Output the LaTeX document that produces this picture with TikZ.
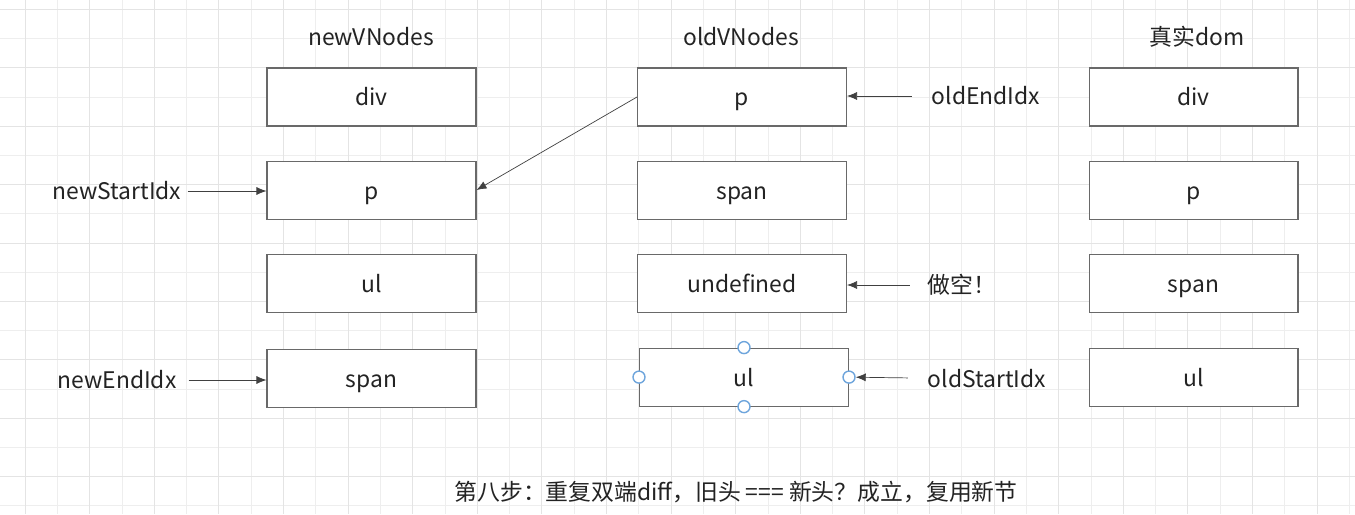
\documentclass[tikz,border=0pt]{standalone}
\usepackage{fontspec}
\setmainfont{Noto Sans CJK SC}
\usetikzlibrary{positioning, arrows.meta}
\definecolor{gridminor}{RGB}{238,238,238}
\definecolor{gridmajor}{RGB}{228,228,228}
\definecolor{boxgray}{RGB}{105,105,105}
\definecolor{handleblue}{RGB}{110,165,220}
\definecolor{textdark}{RGB}{35,35,35}

\begin{document}
\begin{tikzpicture}[x=0.02cm, y=-0.02cm, node distance=0.68cm and 3.2cm,
  box/.style={draw=boxgray, semithick, minimum width=4.18cm, minimum height=1.16cm, fill=white, text height=1.1em, text depth=0.08em, font=\fontsize{13}{15}\selectfont, text=textdark},
  head/.style={font=\fontsize{13}{15}\selectfont, text=textdark},
  lbl/.style={font=\fontsize{13}{15}\selectfont, text=textdark},
  arr/.style={-{Latex[length=0.2cm, width=0.16cm]}, thin, color=black!75},
  handle/.style={circle, draw=handleblue, thick, fill=white, inner sep=0pt, minimum size=0.24cm}]
  \useasboundingbox (0,0) rectangle (1355,514);
  \fill[white] (0,0) rectangle (1355,514);
  % grid
  \foreach \i in {0,...,41} {
    \pgfmathsetmacro{\gx}{25+32.3*\i}
    \draw[gridminor] (\gx,0) -- (\gx,514);
  }
  \foreach \i in {0,...,17} {
    \pgfmathsetmacro{\gy}{9.3+29.2*\i}
    \draw[gridminor] (0,\gy) -- (1355,\gy);
  }
  \foreach \i in {0,...,20} {
    \pgfmathsetmacro{\gx}{25+64.6*\i}
    \draw[gridmajor] (\gx,0) -- (\gx,514);
  }
  \foreach \i in {0,...,8} {
    \pgfmathsetmacro{\gy}{9.3+58.4*\i}
    \draw[gridmajor] (0,\gy) -- (1355,\gy);
  }

  % column heads
  \node[head] (hnew) at (371,37) {newVNodes};
  \node[head] (hold) at (741,37) {oldVNodes};
  \node[head] (hdom) at (1197,37) {真实dom};

  % newVNodes
  \node[box] (ndiv) at (371.5,97) {div};
  \node[box, below=of ndiv] (np) {p};
  \node[box, below=of np] (nul) {ul};
  \node[box, below=0.72cm of nul] (nspan) {span};

  % oldVNodes
  \node[box] (op) at (742,97) {p};
  \node[box, below=of op] (ospan) {span};
  \node[box, below=of ospan] (oundef) {undefined};
  \node[box, below=0.7cm of oundef, xshift=0.04cm] (oul) {ul};
  \node[handle] (oht) at (oul.north) {};
  \node[handle] (ohb) at (oul.south) {};
  \node[handle] (ohl) at (oul.west) {};
  \node[handle] (ohr) at (oul.east) {};

  % real dom
  \node[box] (ddiv) at (1193.5,97) {div};
  \node[box, below=of ddiv] (dp) {p};
  \node[box, below=of dp] (dspan) {span};
  \node[box, below=0.7cm of dspan] (dul) {ul};

  % pointers
  \node[lbl] (nstart) at (117,191) {newStartIdx};
  \node[lbl] (nend) at (117,380) {newEndIdx};
  \node[lbl] (oend) at (986,96) {oldEndIdx};
  \node[lbl] (empty) at (962,285) {做空！};
  \node[lbl] (ostart) at (987,379) {oldStartIdx};
  \draw[arr] (nstart) -- (nstart -| np.west);
  \draw[arr, shorten <=0.12cm] (nend) -- (nend -| nspan.west);
  \draw[arr, shorten <=0.28cm] (oend) -- (oend -| op.east);
  \draw[arr, shorten <=0.24cm] (empty) -- (empty -| oundef.east);
  \draw[arr, shorten <=0.28cm] (ostart) -- (ohr);
  \draw[arr] (op.west) -- (np.east);

  \node[lbl] (caption) at (736,492) {第八步：重复双端diff，旧头 === 新头？成立，复用新节};
\end{tikzpicture}
\end{document}
